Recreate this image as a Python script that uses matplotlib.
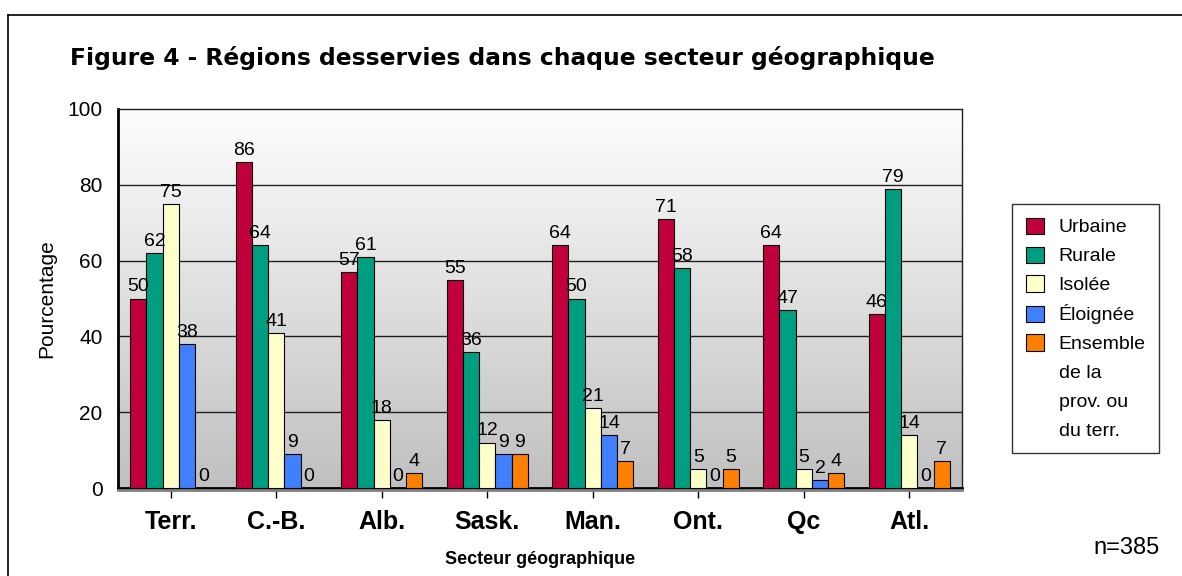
import numpy as np
import matplotlib
matplotlib.use("Agg")
import matplotlib.pyplot as plt
from matplotlib.colors import LinearSegmentedColormap
from matplotlib.patches import Patch
from matplotlib.lines import Line2D

plt.rcParams['font.family'] = ['Liberation Sans', 'DejaVu Sans']

# donnees
secteurs = ["Terr.", "C.-B.", "Alb.", "Sask.", "Man.", "Ont.", "Qc", "Atl."]
series = ["Urbaine", "Rurale", "Isolée", "Éloignée", "Ensemble"]
suite_legende = ["de la", "prov. ou", "du terr."]
urbaine = [50, 86, 57, 55, 64, 71, 64, 46]
rurale = [62, 64, 61, 36, 50, 58, 47, 79]
isolee = [75, 41, 18, 12, 21, 5, 5, 14]
eloignee = [38, 9, 0, 9, 14, 0, 2, 0]
ensemble = [0, 0, 4, 9, 7, 5, 4, 7]
couleurs = ["#C0003C", "#009E80", "#FFFFCC", "#4080FF", "#FF8000"]
yticks = [0, 20, 40, 60, 80, 100]

W, H = 1182, 576
fig = plt.figure(figsize=(W / 100, H / 100), dpi=100)
ax = fig.add_axes([118 / W, 1 - 488 / H, (962 - 118) / W, (488 - 109) / H])

# fond degrade du graphique
cmap = LinearSegmentedColormap.from_list("fond", ["#c0c0c0", "#fefefe"])
ax.imshow(np.linspace(0, 1, 256).reshape(-1, 1), cmap=cmap, origin="lower",
          extent=(0, 1, 0, 1), transform=ax.transAxes, aspect="auto", zorder=0)

donnees = [urbaine, rurale, isolee, eloignee, ensemble]
n = len(donnees)
bw = 1 / 6.5
x = np.arange(len(secteurs))
for i, vals in enumerate(donnees):
    pos = x + (i - (n - 1) / 2) * bw
    ax.bar(pos, vals, width=bw, color=couleurs[i], edgecolor="black",
           linewidth=0.8, zorder=3)
    for xp, v in zip(pos, vals):
        ax.text(xp, v + 0.8, str(v), ha="center", va="bottom", fontsize=14, zorder=4)

ax.set_xlim(-0.5, len(secteurs) - 0.5)
ax.set_ylim(0, 100)
ax.set_yticks(yticks)
ax.set_yticklabels([str(t) for t in yticks], fontsize=15)
for t in yticks[1:-1]:
    ax.axhline(t, color="#202020", lw=1, zorder=1)
ax.tick_params(axis="y", length=0, pad=11)
ax.set_xticks(x)
ax.set_xticklabels(secteurs, fontsize=18, fontweight="bold")
ax.tick_params(axis="x", length=7, width=1, pad=9)

for s in ["top", "right"]:
    ax.spines[s].set_linewidth(1)
    ax.spines[s].set_color("#202020")
ax.spines["left"].set_linewidth(2)
ax.spines["bottom"].set_linewidth(2)
# ombre sous l'axe des x
ax.add_line(Line2D([0, 1], [-0.006, -0.006], transform=ax.transAxes, color="#808080",
                   lw=2, clip_on=False, zorder=5))

ax.set_ylabel("Pourcentage", fontsize=15, labelpad=8)
ax.set_xlabel("Secteur géographique", fontsize=13, fontweight="bold", labelpad=12)

fig.text(70 / W, 1 - 58 / H, "Figure 4 - Régions desservies dans chaque secteur géographique",
         fontsize=16.85, fontweight="bold", family="DejaVu Sans", ha="left", va="center")
fig.text(1160 / W, 1 - 548 / H, "n=385", fontsize=17, ha="right", va="center")

# legende : le libelle long est coupe en lignes sans symbole
handles = [Patch(facecolor=c, edgecolor="black", linewidth=0.8) for c in couleurs]
handles += [Patch(facecolor="none", edgecolor="none") for _ in suite_legende]
leg = fig.legend(handles, series + suite_legende, loc="upper left",
                 bbox_to_anchor=(1012 / W, 1 - 204 / H),
                 frameon=True, fancybox=False, edgecolor="black", fontsize=14,
                 handlelength=0.95, handleheight=0.9, labelspacing=0.52,
                 borderpad=0.7, handletextpad=0.75, borderaxespad=0)
leg.get_frame().set_linewidth(1)

# cadre exterieur
fig.add_artist(Line2D([8 / W, 1], [1 - 15 / H, 1 - 15 / H], color="black", lw=1.2))
fig.add_artist(Line2D([8 / W, 8 / W], [0, 1 - 15 / H], color="black", lw=1.2))

fig.savefig("out.png", dpi=100)
